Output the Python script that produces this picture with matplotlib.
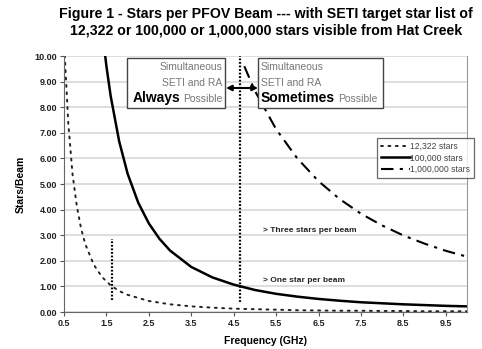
import matplotlib
matplotlib.use("Agg")
import matplotlib.pyplot as plt
from matplotlib.patches import Rectangle

plt.rcParams["font.family"] = ["Liberation Sans", "DejaVu Sans"]

# ---- data ------------------------------------------------------------------
freq_12k = [0.5, 0.6, 0.7, 0.8, 0.9, 1.0, 1.2, 1.4, 1.6, 1.8, 2.0, 2.5, 3.0,
            3.5, 4.0, 4.5, 5.0, 5.5, 6.0, 6.5, 7.0, 7.5, 8.0, 8.5, 9.0, 9.5, 10.0]
stars_12k = [10.6, 7.4, 5.4, 4.16, 3.28, 2.66, 1.85, 1.36, 1.04, 0.82, 0.67,
             0.43, 0.30, 0.22, 0.17, 0.13, 0.11, 0.09, 0.07, 0.06, 0.05, 0.05,
             0.04, 0.04, 0.03, 0.03, 0.03]

freq_100k = [1.4, 1.5, 1.6, 1.8, 2.0, 2.25, 2.5, 2.75, 3.0, 3.5, 4.0, 4.5, 5.0,
             5.5, 6.0, 6.5, 7.0, 7.5, 8.0, 8.5, 9.0, 9.5, 10.0]
stars_100k = [11.0, 9.6, 8.44, 6.67, 5.4, 4.27, 3.46, 2.86, 2.4, 1.76, 1.35,
              1.07, 0.86, 0.71, 0.60, 0.51, 0.44, 0.38, 0.34, 0.30, 0.27,
              0.24, 0.22]

freq_1m = [4.75, 5.0, 5.5, 6.0, 6.5, 7.0, 7.5, 8.0, 8.5, 9.0, 9.5, 10.0]
stars_1m = [9.6, 8.64, 7.14, 6.0, 5.11, 4.41, 3.84, 3.38, 2.99, 2.67, 2.39, 2.16]

labels = ["12,322 stars", "100,000 stars", "1,000,000 stars"]
xticks = [0.5, 1.5, 2.5, 3.5, 4.5, 5.5, 6.5, 7.5, 8.5, 9.5]
yticks = [0, 1, 2, 3, 4, 5, 6, 7, 8, 9, 10]

# marker lines: low-frequency limit and SETI/RA boundary
mark_lo = (1.63, 0.45, 2.85)
mark_hi = (4.65, 0.4, 10.0)

W, H = 482, 349


def fx(px):
    return px / W


def fy(py):
    return 1 - py / H


fig = plt.figure(figsize=(W / 100, H / 100), dpi=100)
ax = fig.add_axes([fx(64), fy(312), fx(467) - fx(64), fy(56) - fy(312)])

l1, = ax.plot(freq_12k, stars_12k, color="#222", lw=1.4,
              ls=(0, (1.0, 2.8)), dash_capstyle="round", label=labels[0])
l2, = ax.plot(freq_100k, stars_100k, color="black", lw=1.8, label=labels[1])
l3, = ax.plot(freq_1m, stars_1m, color="black", lw=1.5,
              ls=(0, (6, 3, 1.5, 3)), label=labels[2])

for xv, y0, y1 in (mark_lo, mark_hi):
    ax.plot([xv, xv], [y0, y1], color="black", lw=1.6, ls=(0, (0.8, 0.8)),
            clip_on=False)

ax.set_xlim(0.5, 10.0)
ax.set_ylim(0, 10)
ax.set_xticks(xticks)
ax.set_xticklabels([f"{v:.1f}" for v in xticks], fontweight="bold",
                   fontsize=6.5, color="#222")
ax.set_yticks(yticks)
ax.set_yticklabels([f"{v:.2f}" for v in yticks], fontweight="bold",
                   fontsize=6.5, color="#222")
ax.tick_params(length=3, width=0.8, color="#555", pad=2)
ax.grid(axis="y", color="#d8d8d8", lw=1.2)
ax.set_axisbelow(True)
ax.spines["top"].set_visible(False)
ax.spines["right"].set_color("#999")
ax.spines["left"].set_color("#666")
ax.spines["bottom"].set_color("#666")

ax.set_xlabel("Frequency (GHz)", fontweight="bold", fontsize=7.5, labelpad=6)
ax.set_ylabel("Stars/Beam", fontweight="bold", fontsize=7.5, labelpad=6)

ax.text(5.2, 3.2, "> Three stars per beam", fontsize=6, fontweight="bold",
        color="#222", va="center")
ax.text(5.2, 1.25, "> One star per beam", fontsize=6, fontweight="bold",
        color="#222", va="center")

fig.text(fx(266), fy(7),
         "Figure 1 - Stars per PFOV Beam --- with SETI target star list of\n"
         "12,322 or 100,000 or 1,000,000 stars visible from Hat Creek",
         ha="center", va="top", fontsize=10.2, fontweight="bold",
         linespacing=1.2)

# ---- annotation boxes (drawn in the axes so they cover the curves) ---------
tf = fig.transFigure
for x0, x1 in ((127, 225), (258, 383)):
    ax.add_patch(Rectangle((fx(x0), fy(108)), fx(x1) - fx(x0),
                           fy(58) - fy(108), transform=tf, clip_on=False,
                           facecolor="white", edgecolor="#444",
                           lw=1.0, zorder=5))

gray = "#777"
small = 7.5
box_txt = [
    (222, 67, "Simultaneous", "right", "center", small, "normal", gray),
    (222, 83, "SETI and RA", "right", "center", small, "normal", gray),
    (222, 102, "Possible", "right", "baseline", small, "normal", gray),
    (180, 102, "Always", "right", "baseline", 10, "bold", "black"),
    (261, 67, "Simultaneous", "left", "center", small, "normal", gray),
    (261, 83, "SETI and RA", "left", "center", small, "normal", gray),
    (261, 102, "Sometimes", "left", "baseline", 10, "bold", "black"),
    (338, 102, "Possible", "left", "baseline", small, "normal", gray),
]
for px, py, s, ha, va, fs, fw, col in box_txt:
    ax.text(fx(px), fy(py), s, transform=tf, ha=ha, va=va, fontsize=fs,
            fontweight=fw, color=col, zorder=6, clip_on=False)

ax.annotate("", xy=(fx(258), fy(88)), xytext=(fx(226), fy(88)),
            xycoords="figure fraction", textcoords="figure fraction",
            arrowprops=dict(arrowstyle="<|-|>", color="black", lw=1.5,
                            mutation_scale=8, shrinkA=0, shrinkB=0),
            zorder=7)

leg = fig.legend(handles=[l1, l2, l3], loc="upper left",
                 bbox_to_anchor=(fx(377), fy(138)), fontsize=6.2,
                 frameon=True, fancybox=False, edgecolor="#444",
                 handlelength=3.4, handletextpad=0.0, borderpad=0.45,
                 labelspacing=0.3, borderaxespad=0)
leg.get_frame().set_linewidth(0.9)
for t in leg.get_texts():
    t.set_color("#444")

fig.savefig("out.png", dpi=100)
